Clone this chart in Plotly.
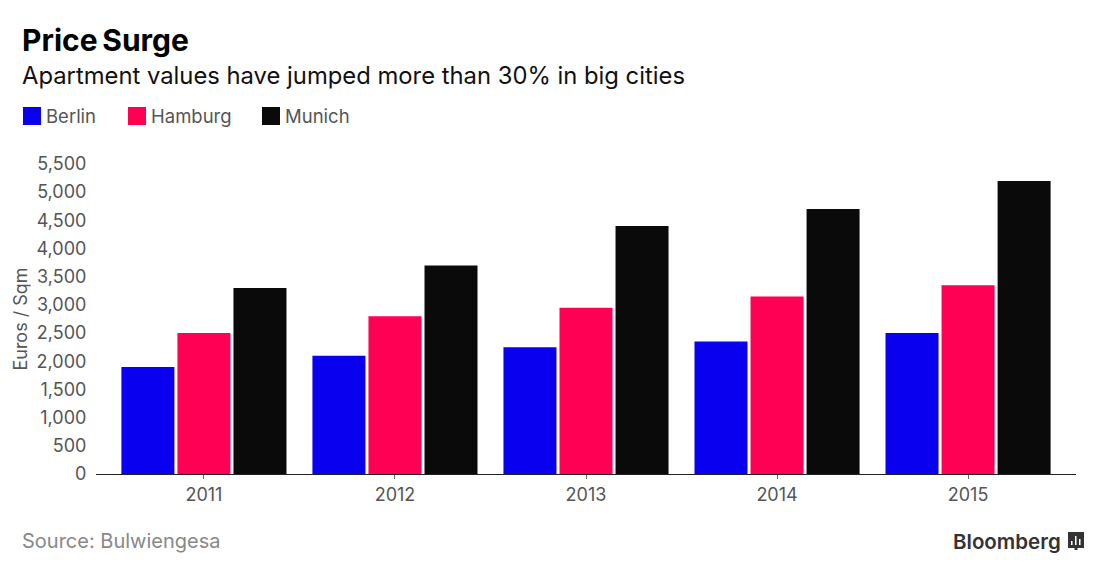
import plotly.graph_objects as go

years = ["2011", "2012", "2013", "2014", "2015"]
berlin = [1900, 2100, 2250, 2350, 2500]
hamburg = [2500, 2800, 2950, 3150, 3350]
munich = [3300, 3700, 4400, 4700, 5200]
ticks = [0, 500, 1000, 1500, 2000, 2500, 3000, 3500, 4000, 4500, 5000, 5500]
F = "Inter, Liberation Sans, sans-serif"
GREY = "#555555"
COLORS = {"Berlin": "#0a00f0", "Hamburg": "#ff0055", "Munich": "#0a0a0a"}

# page body has an 8px margin, so the figure is 8px smaller on each leading edge
OFF = 8
L, T, W, H = 96, 164, 980, 310
FW, FH = 1097 - OFF, 572 - OFF
def px(x): return (x - L) / W
def py(y): return (T + H - y) / H

fig = go.Figure()
for name, vals in zip(COLORS, [berlin, hamburg, munich]):
    fig.add_bar(x=years, y=vals, name=name, marker_color=COLORS[name], marker_line_width=0)

fig.update_layout(
    width=FW, height=FH, autosize=False,
    margin=dict(l=L - OFF, r=FW - (L - OFF) - W, t=T - OFF, b=FH - (T - OFF) - H),
    paper_bgcolor="white", plot_bgcolor="white",
    barmode="group", bargap=0.12, bargroupgap=0.054,
    showlegend=False,
    xaxis=dict(type="category", range=[-0.565, 4.565], showline=True, linecolor="#222222", linewidth=1,
               ticks="outside", ticklen=4, tickcolor="#666666", showgrid=False, automargin=False,
               tickfont=dict(family=F, size=18, color=GREY)),
    yaxis=dict(range=[0, 5500], tickvals=ticks, tickformat=",", showgrid=False, zeroline=False, automargin=False,
               ticks="outside", ticklen=5, tickcolor="rgba(0,0,0,0)",
               tickfont=dict(family=F, size=18, color=GREY),
               title=dict(text="Euros / Sqm", font=dict(family=F, size=18, color=GREY), standoff=4)),
)
P = dict(xref="paper", yref="paper", showarrow=False, xanchor="left", yanchor="middle")
fig.add_annotation(text="<b>Price\u2009Surge</b>", x=px(20), y=py(40), font=dict(family=F, size=30, color="black"), **P)
fig.add_annotation(text="Apartment values have jumped more than 30% in big cities", x=px(20), y=py(76), font=dict(family=F, size=23.8, color="#111111"), **P)
fig.add_annotation(text="Source: Bulwiengesa", x=px(20), y=py(541), font=dict(family=F, size=20, color="#888888"), **P)
P2 = dict(P); P2["xanchor"] = "right"
fig.add_annotation(text="Bloomberg", x=px(1063), y=py(541), font=dict(family=F, size=20.5, color="#333333", weight=600), **P2)

for (name, col), x0 in zip(COLORS.items(), [23, 128, 262]):
    fig.add_shape(type="rect", xref="paper", yref="paper", x0=px(x0), x1=px(x0 + 18), y0=py(125), y1=py(107),
                  fillcolor=col, line_width=0)
    fig.add_annotation(text=name, x=px(x0 + 21), y=py(116), font=dict(family=F, size=18.5, color=GREY), **P)

# Bloomberg mark
fig.add_shape(type="rect", xref="paper", yref="paper", x0=px(1068), x1=px(1084), y0=py(548), y1=py(532),
              fillcolor="#333333", line_width=0)
fig.add_shape(type="rect", xref="paper", yref="paper", x0=px(1074.5), x1=px(1077.5), y0=py(550), y1=py(548),
              fillcolor="#333333", line_width=0)
for x0, top in [(1071, 541), (1075, 536), (1079, 539)]:
    fig.add_shape(type="rect", xref="paper", yref="paper", x0=px(x0), x1=px(x0 + 1.5), y0=py(545), y1=py(top),
                  fillcolor="white", line_width=0)
fig.write_html("out.html")
